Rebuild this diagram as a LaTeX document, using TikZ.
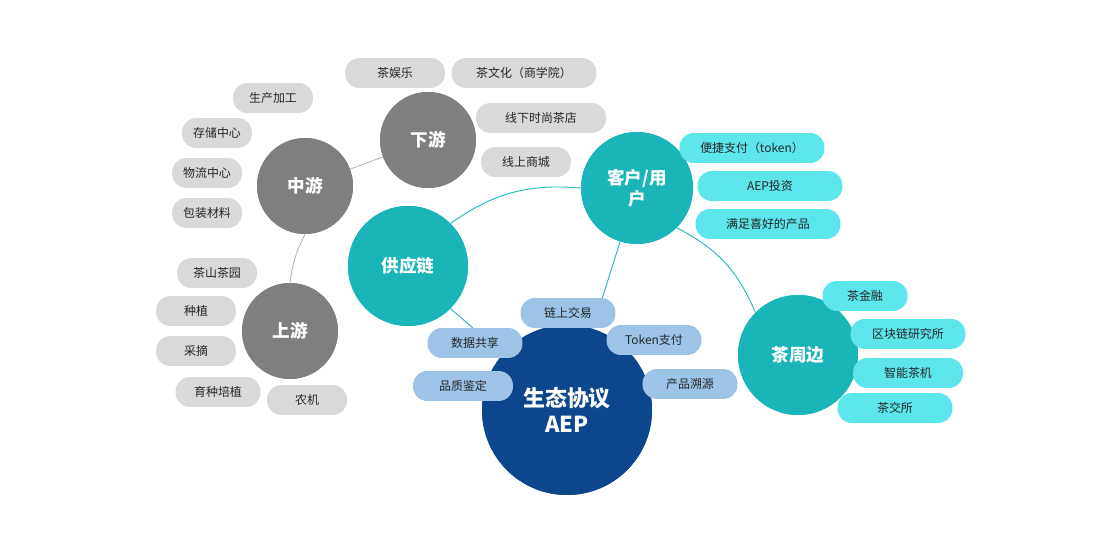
\documentclass[tikz,border=0pt]{standalone}
\usepackage{fontspec}
\setmainfont{Noto Sans CJK SC}
\begin{document}
\begin{tikzpicture}[x=0.02cm,y=-0.02cm,
  pill/.style={rounded corners=0.29cm,minimum height=0.6cm,inner sep=1pt,font=\fontsize{6.8}{8}\selectfont,text=black!85},
  gpill/.style={pill,fill=gray!30},
  cpill/.style={pill,fill=cyan!55!green!30!white,fill=c2},
  bpill/.style={pill,fill=c3},
  big/.style={circle,text=white,font=\fontsize{10}{12}\selectfont\bfseries,align=center,inner sep=0pt},
  tcirc/.style={big,fill=c1},
  gcirc/.style={big,fill=gray!95!black!100,fill=g1},
  ln/.style={line width=0.5pt}]
\definecolor{c1}{HTML}{1AB5B9}
\definecolor{c2}{HTML}{5CE5EA}
\definecolor{c3}{HTML}{9DC3E6}
\definecolor{g1}{HTML}{7F7F7F}
\definecolor{db}{HTML}{0C468C}
\useasboundingbox (0,0) rectangle (1099,537);
% circles
\node[big,fill=db,minimum size=170*0.02cm,font=\fontsize{12.5}{15}\selectfont\bfseries] (aep) at (567,410) {生态协议\\AEP};
\node[tcirc,minimum size=2.4cm] (sup) at (408,266) {供应链};
\node[tcirc,minimum size=2.24cm] (cus) at (637,188) {客户/用\\户};
\node[tcirc,minimum size=2.4cm] (per) at (798,355) {茶周边};
\node[gcirc,minimum size=1.92cm] (mid) at (305,186) {中游};
\node[gcirc,minimum size=1.92cm] (down) at (428,140) {下游};
\node[gcirc,minimum size=1.92cm] (up) at (290,331) {上游};
% connectors
\begin{scope}[on background layer/.style={}]
\end{scope}
\begin{pgfonlayer}{main}\end{pgfonlayer}
\draw[ln,c1] (sup.south east) -- (aep);
\draw[ln,c1] (cus) -- (aep);
\draw[ln,c1] (sup.north east) to[bend left=20] (cus.west);
\draw[ln,c1] (cus.south east) to[bend left=20] (per.north west);
\draw[ln,gray!60] (mid) -- (down);
\draw[ln,gray!60] (mid.south) to[bend right=10] (up.north);
% redraw circles on top of lines
\node[big,fill=db,minimum size=170*0.02cm,font=\fontsize{12.5}{15}\selectfont\bfseries] at (567,410) {生态协议\\AEP};
\node[tcirc,minimum size=2.4cm] at (408,266) {供应链};
\node[tcirc,minimum size=2.24cm] at (637,188) {客户/用\\户};
\node[tcirc,minimum size=2.4cm] at (798,355) {茶周边};
\node[gcirc,minimum size=1.92cm] at (305,186) {中游};
\node[gcirc,minimum size=1.92cm] at (428,140) {下游};
\node[gcirc,minimum size=1.92cm] at (290,331) {上游};
% grey pills
\node[gpill,minimum width=2cm] (p1) at (395,73) {茶娱乐};
\node[gpill,minimum width=2.9cm] (p2) at (524,73) {茶文化（商学院）};
\node[gpill,minimum width=1.6cm] (p3) at (273,98) {生产加工};
\node[gpill,minimum width=1.4cm] (p4) at (217,133) {存储中心};
\node[gpill,minimum width=1.4cm] (p5) at (207,173) {物流中心};
\node[gpill,minimum width=1.4cm] (p6) at (207,213) {包装材料};
\node[gpill,minimum width=2.6cm] (p7) at (541,118) {线下时尚茶店};
\node[gpill,minimum width=1.8cm] (p8) at (526,162) {线上商城};
\node[gpill,minimum width=1.6cm] (p9) at (217,273) {茶山茶园};
\node[gpill,minimum width=1.6cm] (p10) at (196,311) {种植};
\node[gpill,minimum width=1.6cm] (p11) at (196,351) {采摘};
\node[gpill,minimum width=1.7cm] (p12) at (218,392) {育种培植};
\node[gpill,minimum width=1.6cm] (p13) at (307,400) {农机};
% cyan pills
\node[cpill,minimum width=2.9cm] (q1) at (752,148) {便捷支付（token）};
\node[cpill,minimum width=2.9cm] (q2) at (770,186) {AEP投资};
\node[cpill,minimum width=2.9cm] (q3) at (768,224) {满足喜好的产品};
\node[cpill,minimum width=1.7cm] (q4) at (865,296) {茶金融};
\node[cpill,minimum width=2.3cm] (q5) at (908,334) {区块链研究所};
\node[cpill,minimum width=2.2cm] (q6) at (908,373) {智能茶机};
\node[cpill,minimum width=2.3cm] (q7) at (895,408) {茶交所};
% blue pills
\node[bpill,minimum width=1.9cm] (r1) at (568,313) {链上交易};
\node[bpill,minimum width=1.9cm] (r2) at (654,340) {Token支付};
\node[bpill,minimum width=1.9cm] (r3) at (475,343) {数据共享};
\node[bpill,minimum width=2cm] (r4) at (463,386) {品质鉴定};
\node[bpill,minimum width=1.9cm] (r5) at (690,384) {产品溯源};
\end{tikzpicture}
\end{document}
